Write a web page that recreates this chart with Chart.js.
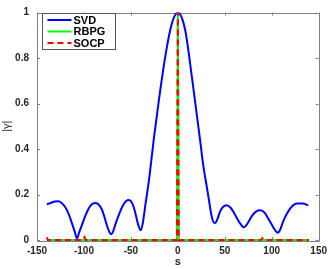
<!DOCTYPE html>
<html>
<head>
<meta charset="utf-8">
<script src="https://cdn.jsdelivr.net/npm/chart.js@4/dist/chart.umd.min.js"></script>
<style>
html,body{margin:0;padding:0;background:#fff;}
canvas{display:block;}
</style>
</head>
<body>
<canvas id="c" width="332" height="269"></canvas>
<script>
// ---- data ----
const svdS = [-139.5,-135,-131,-127.5,-124,-120,-116,-112,-109.5,-107.5,-105,-102,-98,-94,-90.5,-88,-85,-81,-78,-75,-72.5,-71,-69,-66,-62.5,-58.5,-55,-52.5,-50,-47,-44.5,-42,-39.5,-37.5,-34.5,-31,-28.5,-25.5,-20,-14,-8,-4,0,4,8,12,18,23.5,27,30,33,36,38.5,40,42,45,48,52,56,60,64,67.5,70,72.5,75,79,83.5,88,92.5,96,100,103.5,106.5,109,112,116,121,127,133,139];
const svdG = [0.156,0.164,0.169,0.170,0.164,0.145,0.112,0.064,0.032,0.007,0.035,0.068,0.112,0.145,0.160,0.163,0.158,0.135,0.099,0.057,0.032,0.025,0.037,0.075,0.114,0.152,0.171,0.176,0.171,0.145,0.105,0.064,0.043,0.070,0.156,0.255,0.34,0.447,0.62,0.79,0.925,0.98,1.0,0.98,0.92,0.81,0.62,0.447,0.33,0.255,0.18,0.105,0.076,0.075,0.09,0.125,0.145,0.153,0.143,0.118,0.088,0.066,0.056,0.062,0.078,0.106,0.126,0.131,0.12,0.097,0.068,0.044,0.032,0.045,0.08,0.114,0.145,0.160,0.160,0.152];
const rbpgS = [-139.5,-1,0,1,139.5];
const rbpgG = [0,0,1,0,0];
const socpS = [-139.5,-138.5,-101,-99.5,-98,-1,0,1,88.5,90,91.5,139.5];
const socpG = [0.012,0,0,0.012,0,0,1,0,0,0.008,0,0];
const xTicks = [-150,-100,-50,0,50,100,150];
const yTicks = [0,0.2,0.4,0.6,0.8,1];
const yTickLabels = ['0','0.2','0.4','0.6','0.8','1'];
const seriesNames = ['SVD','RBPG','SOCP'];
const xTitle = 's';
const yTitle = '|\u03B3|';

const pts = (s,g) => s.map((v,i)=>({x:v,y:g[i]}));
const FONT = '"Liberation Sans", Arial, Helvetica, sans-serif';
const AXC = '#808080';

const framePlugin = {
  id:'frame',
  beforeDatasetsDraw(chart){
    const {ctx, chartArea:a, scales} = chart;
    ctx.save();
    ctx.strokeStyle = AXC; ctx.lineWidth = 1;
    ctx.beginPath();
    ctx.rect(Math.round(a.left)+0.5, Math.round(a.top)+0.5, Math.round(a.right-a.left), Math.round(a.bottom-a.top));
    ctx.stroke();
    const L = 3;
    ctx.beginPath();
    xTicks.forEach(v=>{
      const px = Math.round(scales.x.getPixelForValue(v))+0.5;
      ctx.moveTo(px,a.bottom); ctx.lineTo(px,a.bottom-L);
      ctx.moveTo(px,a.top); ctx.lineTo(px,a.top+L);
    });
    yTicks.forEach(v=>{
      const py = Math.round(scales.y.getPixelForValue(v))+0.5;
      ctx.moveTo(a.left,py); ctx.lineTo(a.left+L,py);
      ctx.moveTo(a.right,py); ctx.lineTo(a.right-L,py);
    });
    ctx.stroke();
    ctx.restore();
  },
  afterDraw(chart){
    const {ctx} = chart;
    const a = chart.chartArea;
    const bx = a.left+5.5, by = 13.5, bw = 73, bh = 36;
    ctx.save();
    ctx.fillStyle = '#fff';
    ctx.fillRect(bx,by,bw,bh);
    ctx.strokeStyle = '#555'; ctx.lineWidth = 1;
    ctx.strokeRect(bx,by,bw,bh);
    const ds = chart.data.datasets;
    ctx.font = 'bold 11px ' + FONT;
    ctx.textBaseline = 'middle';
    ctx.textAlign = 'left';
    ds.forEach((d,i)=>{
      const y = by + 6.5 + i*11.5;
      ctx.strokeStyle = d.borderColor; ctx.lineWidth = 2;
      ctx.setLineDash(d.borderDash || []);
      ctx.beginPath(); ctx.moveTo(bx+5, y); ctx.lineTo(bx+29, y); ctx.stroke();
      ctx.setLineDash([]);
      ctx.fillStyle = '#000';
      ctx.fillText(d.label, bx+31, y+0.5);
    });
    ctx.restore();
  }
};

new Chart(document.getElementById('c'), {
  type:'line',
  data:{
    datasets:[
      {label:seriesNames[0], data:pts(svdS,svdG), borderColor:'#0000ff', borderWidth:2, pointRadius:0, cubicInterpolationMode:'monotone', order:3},
      {label:seriesNames[1], data:pts(rbpgS,rbpgG), borderColor:'#00ff00', borderWidth:2, pointRadius:0, tension:0, order:2, clip:false},
      {label:seriesNames[2], data:pts(socpS,socpG), borderColor:'#ff0000', borderWidth:2, borderDash:[6,4], pointRadius:0, tension:0, order:1, clip:false}
    ]
  },
  options:{
    responsive:false, animation:false, devicePixelRatio:1,
    layout:{padding:{top:0,right:10,bottom:0,left:0}},
    plugins:{legend:{display:false}, tooltip:{enabled:false}},
    scales:{
      x:{type:'linear', min:-150, max:150,
        afterBuildTicks(s){ s.ticks = xTicks.map(v=>({value:v})); },
        afterFit(s){ s.height = 29; },
        grid:{display:false, drawTicks:false, tickLength:0}, border:{display:false},
        ticks:{font:{family:FONT, size:10, weight:'bold'}, color:'#262626', padding:5, maxRotation:0},
        title:{display:true, text:xTitle, font:{family:FONT, size:11, weight:'bold'}, color:'#262626', padding:0}
      },
      y:{type:'linear', min:0, max:1,
        afterBuildTicks(s){ s.ticks = yTicks.map(v=>({value:v})); },
        afterFit(s){ s.width = 37; },
        grid:{display:false, drawTicks:false, tickLength:0}, border:{display:false},
        ticks:{font:{family:FONT, size:10, weight:'bold', lineHeight:0.9}, color:'#262626', padding:8,
          callback:(v)=>{ const i = yTicks.indexOf(v); return i>=0 ? yTickLabels[i] : ''; }},
        title:{display:true, text:yTitle, font:{family:FONT, size:11}, color:'#262626', padding:0}
      }
    }
  },
  plugins:[framePlugin]
});
</script>
</body>
</html>
